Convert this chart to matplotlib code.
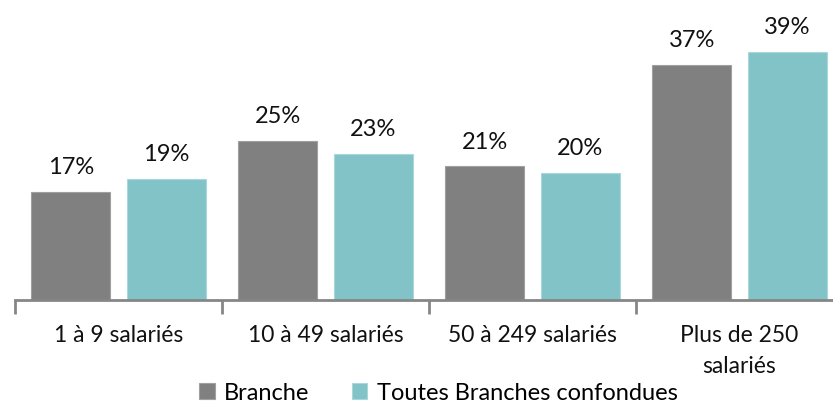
import matplotlib
matplotlib.use("Agg")
import matplotlib.pyplot as plt
import numpy as np

categories = ["1 à 9 salariés", "10 à 49 salariés", "50 à 249 salariés", "Plus de 250\nsalariés"]
branche = [17, 25, 21, 37]
toutes = [19, 23, 20, 39]
series_names = ["Branche", "Toutes Branches confondues"]
colors = ["#808080", "#82C3C8"]

plt.rcParams['font.family'] = ['Lato', 'DejaVu Sans']

fig = plt.figure(figsize=(8.33, 4.04), dpi=100)
ax = fig.add_axes([15/833, 1 - 300/404, 828/833, 300/404])

x = np.arange(len(categories))
w = 0.382
off = 0.23
b1 = ax.bar(x - off, branche, w, color=colors[0], edgecolor="#a0a0a0", linewidth=0.8, label=series_names[0])
b2 = ax.bar(x + off, toutes, w, color=colors[1], edgecolor="#a8d8dc", linewidth=0.8, label=series_names[1])
for bars, vals in ((b1, branche), (b2, toutes)):
    for r, v in zip(bars, vals):
        ax.text(r.get_x() + r.get_width()/2, v + 2.8, f"{v}%", ha="center", va="baseline", fontsize=17, color="#111111")

ax.set_xlim(-0.5, 3.5)
ax.set_ylim(0, 300/6.36)
for s in ["top", "right", "left"]:
    ax.spines[s].set_visible(False)
ax.spines["bottom"].set_color("#868686")
ax.spines["bottom"].set_linewidth(2)
ax.set_yticks([])
ax.set_xticks(x)
ax.set_xticklabels(categories, fontsize=16.5, color="#111111", linespacing=1.6)
ax.tick_params(axis="x", which="major", length=0, pad=18)
ax.set_xticks(np.arange(-0.5, 4, 1), minor=True)
ax.tick_params(axis="x", which="minor", length=10, width=2, color="#868686")

fig.legend(handles=[b1, b2], labels=series_names, loc="center", bbox_to_anchor=(0.5 + 22/833, 1 - 393/404),
           ncol=2, frameon=False, fontsize=17, handlelength=0.65, handleheight=0.65, columnspacing=1.8, handletextpad=0.4,
           borderpad=0)

fig.savefig("out.png", dpi=100)
